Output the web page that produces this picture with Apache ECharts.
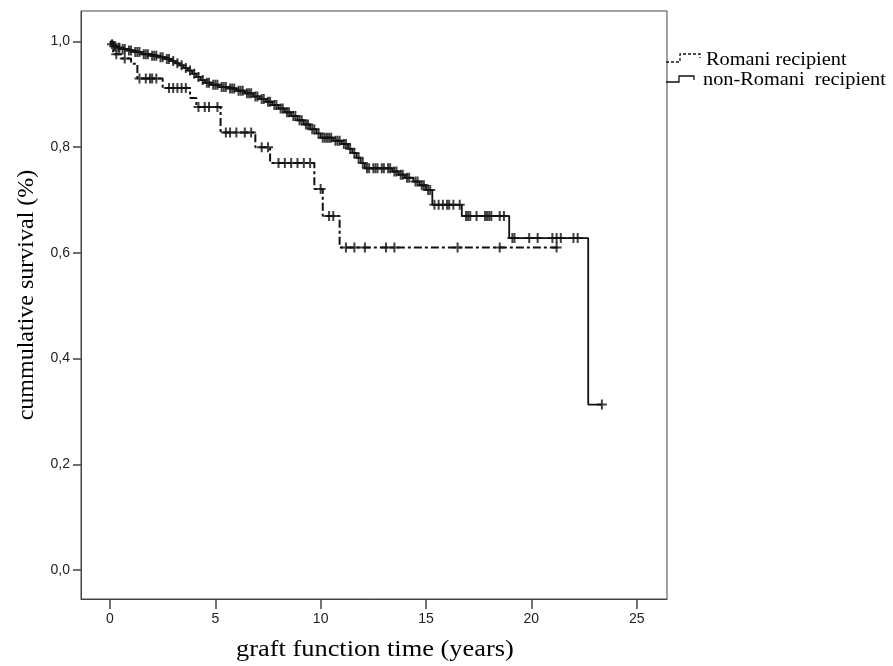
<!DOCTYPE html>
<html>
<head>
<meta charset="utf-8">
<script src="https://cdn.jsdelivr.net/npm/echarts@6/dist/echarts.min.js"></script>
<style>
  html, body {margin:0;padding:0;background:#fff;}
  #chart {width:893px;height:666px;}
</style>
</head>
<body>
<div id="chart"></div>
<script>
  // Kaplan-Meier steps: time (years) of each drop and survival after it
  var romaniTime = [0, 0.15, 0.55, 1.0, 1.3, 2.5, 3.8, 4.1, 5.25, 6.9, 7.6, 9.7, 10.1, 10.9];
  var romaniSurv = [1.0, 0.976, 0.968, 0.958, 0.930, 0.912, 0.893, 0.876, 0.828, 0.800, 0.770, 0.721, 0.670, 0.610];
  var romaniEnd = 21.3;
  var romaniCensored = [0.3, 0.7, 1.4, 1.7, 1.9, 2.0, 2.2, 2.8, 3.0, 3.2, 3.4, 3.6, 4.2, 4.5, 4.7, 5.1,
    5.5, 5.7, 6.0, 6.4, 6.7, 7.2, 7.5, 8.0, 8.3, 8.6, 8.9, 9.2, 9.5, 10.0, 10.4, 10.6,
    11.2, 11.6, 12.1, 13.1, 13.5, 16.5, 18.5, 21.2];

  var nonRomaniTime = [0, 0.05, 0.15, 0.3, 0.5, 0.8, 1.1, 1.5, 1.9, 2.3, 2.6, 2.9, 3.1, 3.3, 3.5, 3.7,
    3.9, 4.1, 4.3, 4.5, 4.8, 5.2, 5.6, 6.0, 6.4, 6.8, 7.1, 7.4, 7.7, 8.0, 8.3, 8.6, 8.9, 9.2,
    9.5, 9.8, 10.0, 10.6, 11.0, 11.3, 11.5, 11.7, 11.9, 12.1, 13.4, 13.7, 14.0, 14.4, 14.7,
    15.0, 15.3, 16.7, 18.95, 22.7];
  var nonRomaniSurv = [1.0, 0.995, 0.991, 0.988, 0.986, 0.983, 0.980, 0.976, 0.973, 0.970, 0.967, 0.963,
    0.959, 0.955, 0.950, 0.945, 0.939, 0.933, 0.927, 0.922, 0.918, 0.914, 0.911, 0.907, 0.902,
    0.896, 0.891, 0.886, 0.880, 0.873, 0.866, 0.859, 0.851, 0.843, 0.834, 0.826, 0.818, 0.812,
    0.806, 0.797, 0.789, 0.780, 0.770, 0.760, 0.754, 0.748, 0.742, 0.735, 0.728, 0.719, 0.691,
    0.670, 0.628, 0.313];
  var nonRomaniEnd = 23.35;
  var nonRomaniCensored = [0.1, 0.2, 0.25, 0.4, 0.45, 0.6, 0.7, 0.9, 1.0, 1.2, 1.3, 1.4, 1.6, 1.7, 1.8,
    2.0, 2.1, 2.2, 2.4, 2.5, 2.7, 2.8, 3.0, 3.2, 3.4, 3.6, 3.8, 4.0, 4.2, 4.4, 4.6, 4.7, 4.9,
    5.0, 5.1, 5.3, 5.4, 5.5, 5.7, 5.8, 5.9, 6.1, 6.2, 6.3, 6.5, 6.6, 6.7, 6.9, 7.0, 7.2, 7.3,
    7.5, 7.6, 7.8, 7.9, 8.1, 8.2, 8.4, 8.5, 8.7, 8.8, 9.0, 9.1, 9.3, 9.4, 9.6, 9.7, 9.9, 10.1,
    10.2, 10.3, 10.4, 10.5, 10.7, 10.8, 10.9, 11.1, 11.2, 11.4, 11.6, 11.8, 12.0, 12.2, 12.3,
    12.5, 12.6, 12.7, 12.9, 13.0, 13.2, 13.3, 13.5, 13.6, 13.8, 13.9, 14.1, 14.2, 14.5, 14.6,
    14.8, 14.9, 15.1, 15.2, 15.4, 15.6, 15.8, 16.0, 16.1, 16.3, 16.6, 16.9, 17.0, 17.1, 17.4,
    17.8, 17.9, 18.0, 18.1, 18.5, 18.7, 19.1, 19.2, 19.9, 20.3, 21.0, 21.2, 21.4, 22.0, 22.2, 23.35];

  var xTicks = [0, 5, 10, 15, 20, 25];
  var yTicks = [0, 0.2, 0.4, 0.6, 0.8, 1.0];
  var legendNames = ['Romani recipient', 'non-Romani  recipient'];

  function stepData(times, surv, end) {
    var d = times.map(function (t, i) { return [t, surv[i]]; });
    d.push([end, surv[surv.length - 1]]);
    return d;
  }
  function survAt(times, surv, t) {
    var s = surv[0];
    for (var i = 0; i < times.length; i++) {
      if (times[i] <= t) s = surv[i];
    }
    return s;
  }
  function censorData(times, surv, cens) {
    return cens.map(function (t) { return [t, survAt(times, surv, t)]; });
  }

  var plusMark = 'path://M4,0H6V4H10V6H6V10H4V6H0V4H4Z';
  var ink = '#111';
  var frame = '#444';
  var serif = '"Liberation Serif", "Times New Roman", serif';
  var sans = '"Liberation Sans", Arial, sans-serif';

  var chart = echarts.init(document.getElementById('chart'));
  var option = {
    animation: false,
    backgroundColor: '#fff',
    grid: {
      left: 81, right: 226, top: 11, bottom: 67,
      show: true, borderColor: frame, borderWidth: 1,
      outerBoundsMode: 'none'
    },
    xAxis: {
      type: 'value',
      min: -1.376, max: 26.44,
      axisLine: {show: true, onZero: false, lineStyle: {color: frame, width: 1}},
      axisTick: {show: true, customValues: xTicks, length: 10, lineStyle: {color: frame, width: 1.5}},
      axisLabel: {customValues: xTicks, margin: 13, color: '#222', fontFamily: sans, fontSize: 14},
      splitLine: {show: false}
    },
    yAxis: {
      type: 'value',
      min: -0.0549, max: 1.0577,
      axisLine: {show: true, onZero: false, lineStyle: {color: frame, width: 1}},
      axisTick: {show: true, customValues: yTicks, length: 8, lineStyle: {color: frame, width: 1.5}},
      axisLabel: {
        customValues: yTicks, margin: 11, color: '#222', fontFamily: sans, fontSize: 14,
        formatter: function (v) { return v.toFixed(1).replace('.', ','); }
      },
      splitLine: {show: false}
    },
    series: [
      {
        name: legendNames[0], type: 'line', step: 'end', showSymbol: false,
        data: stepData(romaniTime, romaniSurv, romaniEnd),
        lineStyle: {color: ink, width: 2, type: [8, 3, 3, 3]}
      },
      {
        name: legendNames[1], type: 'line', step: 'end', showSymbol: false,
        data: stepData(nonRomaniTime, nonRomaniSurv, nonRomaniEnd),
        lineStyle: {color: ink, width: 1.8}
      },
      {
        type: 'scatter', symbol: plusMark, symbolSize: 10, z: 3,
        data: censorData(romaniTime, romaniSurv, romaniCensored),
        itemStyle: {color: ink}
      },
      {
        type: 'scatter', symbol: plusMark, symbolSize: 10, z: 3,
        data: censorData(nonRomaniTime, nonRomaniSurv, nonRomaniCensored),
        itemStyle: {color: ink}
      }
    ],
    graphic: [
      {
        type: 'text', x: 27, y: 295, rotation: Math.PI / 2,
        style: {text: 'cummulative survival (%)', font: '24px ' + serif, fill: '#000',
          textAlign: 'center', textVerticalAlign: 'middle'}
      },
      {
        type: 'text', x: 236, y: 650, scaleX: 1.1,
        style: {text: 'graft function time (years)', font: '24px ' + serif, fill: '#000',
          textAlign: 'left', textVerticalAlign: 'middle'}
      },
      // legend keys drawn as little step shapes, like the SPSS original
      {
        type: 'polyline',
        shape: {points: [[666, 62], [680, 62], [680, 54], [700, 54], [700, 58]]},
        style: {stroke: ink, lineWidth: 1.3, lineDash: [3, 2], fill: null}
      },
      {
        type: 'polyline',
        shape: {points: [[666, 82], [679, 82], [679, 76], [694, 76], [694, 80]]},
        style: {stroke: ink, lineWidth: 1.3, fill: null}
      },
      {
        type: 'text', x: 706, y: 60, scaleX: 1.07,
        style: {text: legendNames[0], font: '19px ' + serif, fill: '#000',
          textAlign: 'left', textVerticalAlign: 'middle'}
      },
      {
        type: 'text', x: 703, y: 80, scaleX: 1.07,
        style: {text: legendNames[1], font: '19px ' + serif, fill: '#000',
          textAlign: 'left', textVerticalAlign: 'middle'}
      }
    ]
  };
  chart.setOption(option);
  window.onresize = function () {
    chart.resize();
  };
</script>
</body>
</html>
